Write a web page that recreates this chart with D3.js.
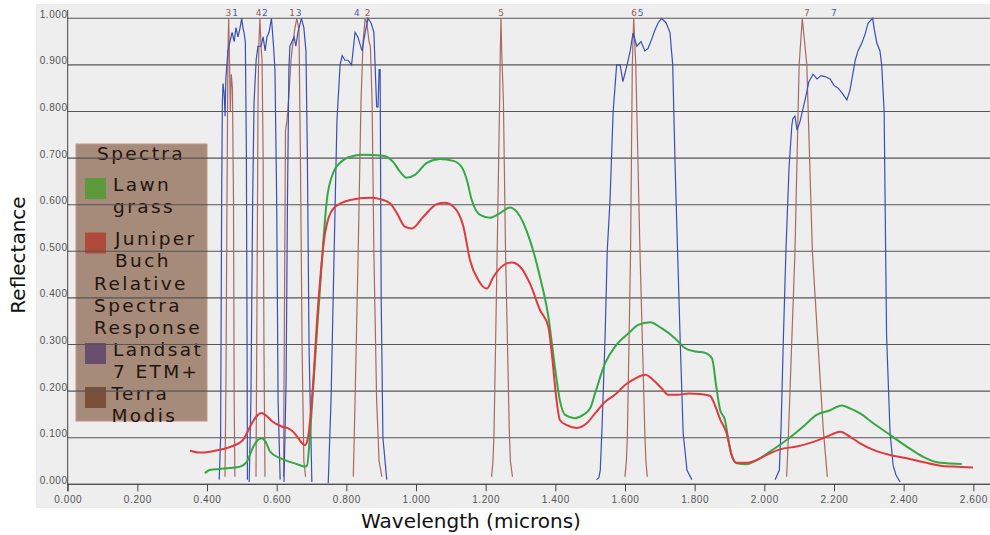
<!DOCTYPE html>
<html>
<head>
<meta charset="utf-8">
<script src="https://cdn.jsdelivr.net/npm/d3@7"></script>
<style>
  body { margin: 0; background: #fff; }
  svg { display: block; font-family: "DejaVu Sans", sans-serif; }
</style>
</head>
<body>
<div id="chart"></div>
<script>
// axis ticks
const xTicks = [0, 0.2, 0.4, 0.6, 0.8, 1.0, 1.2, 1.4, 1.6, 1.8, 2.0, 2.2, 2.4, 2.6];
const yTicks = [0, 0.1, 0.2, 0.3, 0.4, 0.5, 0.6, 0.7, 0.8, 0.9, 1.0];

// spectra [wavelength, reflectance]
const lawnGrass = [
  [0.394,0.024],[0.409,0.031],[0.437,0.033],[0.466,0.035],[0.495,0.038],[0.514,0.048],
  [0.533,0.081],[0.546,0.095],[0.555,0.099],[0.562,0.097],[0.569,0.09],[0.581,0.07],
  [0.610,0.056],[0.638,0.048],[0.667,0.041],[0.681,0.038],[0.687,0.04],[0.696,0.11],
  [0.704,0.2],[0.715,0.32],[0.729,0.47],[0.744,0.61],[0.763,0.67],[0.782,0.69],
  [0.811,0.703],[0.848,0.707],[0.905,0.705],[0.934,0.692],[0.954,0.671],[0.973,0.658],
  [0.997,0.664],[1.031,0.69],[1.069,0.698],[1.107,0.694],[1.131,0.681],[1.146,0.653],
  [1.160,0.61],[1.184,0.578],[1.212,0.572],[1.241,0.582],[1.270,0.594],[1.289,0.585],
  [1.327,0.524],[1.356,0.445],[1.380,0.36],[1.399,0.25],[1.413,0.18],[1.428,0.149],
  [1.456,0.142],[1.480,0.149],[1.500,0.163],[1.514,0.195],[1.543,0.26],[1.571,0.295],
  [1.610,0.324],[1.638,0.342],[1.672,0.348],[1.705,0.335],[1.744,0.313],[1.773,0.292],
  [1.801,0.285],[1.830,0.282],[1.850,0.27],[1.862,0.21],[1.873,0.16],[1.887,0.138],
  [1.897,0.095],[1.906,0.063],[1.921,0.045],[1.949,0.043],[1.978,0.052],[2.016,0.07],
  [2.064,0.095],[2.112,0.124],[2.150,0.149],[2.189,0.159],[2.222,0.169],[2.246,0.163],
  [2.275,0.152],[2.313,0.131],[2.361,0.106],[2.409,0.081],[2.456,0.059],[2.505,0.046],
  [2.567,0.0435]
];
const juniperBuch = [
  [0.351,0.072],[0.380,0.068],[0.409,0.07],[0.437,0.074],[0.466,0.08],[0.503,0.095],
  [0.528,0.13],[0.541,0.145],[0.557,0.153],[0.569,0.148],[0.586,0.136],[0.614,0.124],
  [0.633,0.12],[0.647,0.113],[0.662,0.099],[0.673,0.088],[0.681,0.084],[0.690,0.1],
  [0.701,0.18],[0.720,0.395],[0.739,0.54],[0.763,0.592],[0.811,0.61],[0.868,0.615],
  [0.897,0.612],[0.925,0.603],[0.945,0.582],[0.968,0.553],[0.988,0.549],[1.021,0.574],
  [1.059,0.601],[1.083,0.604],[1.107,0.596],[1.136,0.553],[1.155,0.481],[1.179,0.438],
  [1.203,0.42],[1.222,0.445],[1.251,0.47],[1.275,0.476],[1.299,0.467],[1.327,0.431],
  [1.356,0.374],[1.380,0.338],[1.390,0.28],[1.402,0.19],[1.413,0.138],[1.433,0.127],
  [1.461,0.121],[1.490,0.131],[1.514,0.152],[1.543,0.177],[1.571,0.192],[1.600,0.213],
  [1.629,0.227],[1.658,0.235],[1.681,0.224],[1.705,0.206],[1.724,0.192],[1.753,0.192],
  [1.782,0.195],[1.815,0.194],[1.844,0.19],[1.858,0.17],[1.873,0.14],[1.892,0.109],
  [1.906,0.063],[1.921,0.046],[1.949,0.046],[1.978,0.052],[2.007,0.063],[2.045,0.075],
  [2.093,0.081],[2.141,0.091],[2.179,0.102],[2.218,0.113],[2.246,0.102],[2.275,0.088],
  [2.313,0.074],[2.361,0.063],[2.409,0.056],[2.456,0.048],[2.505,0.04],[2.543,0.038],
  [2.599,0.036]
];

// Landsat 7 ETM+ relative spectral response
const landsat1 = [
  [0.435,0.01],[0.439,0.10],[0.442,0.61],[0.444,0.82],[0.446,0.86],[0.449,0.84],[0.452,0.79],
  [0.454,0.87],[0.460,0.93],[0.466,0.95],[0.472,0.97],[0.478,0.95],[0.483,0.98],[0.489,0.96],
  [0.495,0.98],[0.4996,1.0],[0.503,0.98],[0.506,0.97],[0.510,0.95],[0.513,0.71],[0.515,0.29],
  [0.516,0.01]
];
const landsat2 = [
  [0.521,0.005],[0.526,0.18],[0.531,0.61],[0.535,0.82],[0.541,0.91],[0.546,0.94],[0.555,0.94],
  [0.561,0.96],[0.567,0.93],[0.572,0.96],[0.578,0.97],[0.585,1.0],[0.591,0.94],[0.595,0.89],
  [0.600,0.61],[0.604,0.18],[0.610,0.01]
];
const landsat3 = [
  [0.621,0.005],[0.627,0.22],[0.631,0.61],[0.635,0.89],[0.638,0.94],[0.644,0.95],[0.650,0.96],
  [0.655,0.94],[0.661,0.97],[0.671,1.0],[0.678,0.98],[0.684,0.93],[0.688,0.71],[0.693,0.29],
  [0.701,0.005]
];
const landsat4 = [
  [0.748,0.003],[0.756,0.18],[0.765,0.50],[0.773,0.78],[0.782,0.90],[0.788,0.92],[0.796,0.91],
  [0.805,0.91],[0.815,0.90],[0.825,0.97],[0.833,0.96],[0.845,0.93],[0.854,0.97],[0.862,1.0],
  [0.871,0.99],[0.879,0.97],[0.887,0.81],[0.891,0.81],[0.894,0.89],[0.897,0.89],[0.900,0.40],
  [0.905,0.10],[0.916,0.01]
];
const landsat5 = [
  [1.518,0.01],[1.525,0.014],[1.529,0.03],[1.534,0.12],[1.543,0.32],[1.549,0.50],[1.557,0.61],
  [1.566,0.80],[1.576,0.90],[1.586,0.90],[1.594,0.864],[1.606,0.90],[1.615,0.93],[1.623,0.968],
  [1.634,0.94],[1.646,0.95],[1.657,0.93],[1.666,0.935],[1.674,0.95],[1.686,0.975],[1.695,0.99],
  [1.705,1.0],[1.718,0.99],[1.729,0.97],[1.737,0.90],[1.744,0.68],[1.758,0.32],[1.767,0.11],
  [1.778,0.03],[1.792,0.01]
];
const landsat7 = [
  [2.031,0.01],[2.043,0.03],[2.048,0.12],[2.055,0.32],[2.062,0.50],[2.071,0.68],[2.079,0.77],
  [2.082,0.785],[2.088,0.79],[2.094,0.76],[2.103,0.78],[2.117,0.825],[2.128,0.864],[2.140,0.88],
  [2.151,0.87],[2.163,0.877],[2.174,0.875],[2.189,0.87],[2.200,0.856],[2.212,0.85],[2.223,0.84],
  [2.237,0.825],[2.246,0.846],[2.261,0.91],[2.269,0.93],[2.280,0.947],[2.289,0.965],[2.298,0.99],
  [2.311,1.0],[2.316,0.975],[2.323,0.947],[2.332,0.93],[2.337,0.90],[2.344,0.80],[2.351,0.32],
  [2.361,0.11],[2.370,0.04],[2.378,0.02],[2.390,0.005]
];

// Terra MODIS relative spectral response
const modis3 = [
  [0.4516,0.016],[0.4544,0.22],[0.4573,0.61],[0.4602,0.93],[0.4622,1.0],[0.4645,0.91],
  [0.467,0.80],[0.4697,0.88],[0.473,0.85],[0.476,0.61],[0.478,0.18],[0.480,0.016]
];
const modis4 = [
  [0.5406,0.016],[0.5435,0.40],[0.5464,0.82],[0.549,0.95],[0.552,1.0],[0.555,0.94],
  [0.558,0.91],[0.561,0.71],[0.5635,0.29],[0.5664,0.016]
];
const modis1 = [
  [0.6196,0.016],[0.6225,0.40],[0.6253,0.76],[0.6296,0.78],[0.6354,0.84],[0.641,0.91],
  [0.647,0.95],[0.6526,0.98],[0.658,1.0],[0.664,0.975],[0.668,0.71],[0.673,0.29],
  [0.678,0.05],[0.683,0.016]
];
const modis2 = [
  [0.820,0.016],[0.825,0.18],[0.834,0.50],[0.842,0.82],[0.848,0.95],[0.854,1.0],[0.859,0.99],
  [0.865,0.95],[0.869,0.94],[0.874,0.82],[0.879,0.50],[0.887,0.18],[0.894,0.05],[0.902,0.016]
];
const modis5 = [
  [1.217,0.016],[1.221,0.05],[1.224,0.11],[1.233,0.50],[1.240,0.82],[1.242,0.93],[1.244,1.0],
  [1.246,0.93],[1.251,0.82],[1.257,0.50],[1.268,0.11],[1.271,0.05],[1.277,0.016]
];
const modis6 = [
  [1.600,0.016],[1.604,0.05],[1.607,0.11],[1.616,0.50],[1.621,0.90],[1.625,1.0],[1.631,0.90],
  [1.643,0.50],[1.657,0.11],[1.660,0.05],[1.664,0.016]
];
const modis7 = [
  [2.064,0.016],[2.069,0.10],[2.078,0.29],[2.088,0.50],[2.100,0.90],[2.109,1.0],[2.122,0.90],
  [2.138,0.50],[2.155,0.29],[2.169,0.12],[2.181,0.016]
];

// band number labels along the top [label, wavelength]
const landsatLabels = [["1",0.4805],["2",0.566],["3",0.663],["4",0.830],["5",1.645],["7",2.200]];
const modisLabels = [["3",0.4615],["4",0.548],["1",0.6445],["2",0.861],["5",1.244],["6",1.626],["7",2.122]];

// legend text
const legendTitle = "Spectra";
const spectraNames = [["Lawn","grass"],["Juniper","Buch"]];
const responseTitle = ["Relative","Spectra","Response"];
const responseNames = [["Landsat","7 ETM+"],["Terra","Modis"]];

const width = 990, height = 535;
const green = "#33a845", red = "#e03a3e", blue = "#3a4fb6", brown = "#a86a62";

const x = d3.scaleLinear().domain([0, 2.6]).range([67.7, 973.3]);
const y = d3.scaleLinear().domain([0, 1]).range([484.3, 18.3]);

const svg = d3.select("#chart").append("svg")
  .attr("width", width)
  .attr("height", height);

svg.append("rect").attr("width", width).attr("height", height).attr("fill", "#fff");
svg.append("rect")
  .attr("x", 36).attr("y", 4)
  .attr("width", width - 36).attr("height", 504)
  .attr("fill", "#eeeeee");

// legend (drawn under the grid lines)
const lg = svg.append("g").attr("fill", "#24150d").style("font-size", "18.5px").style("letter-spacing", "2.4px");
lg.append("rect")
  .attr("x", 76).attr("y", 144).attr("width", 131).attr("height", 277)
  .attr("fill", "#a68a7a").attr("stroke", "#c49484").attr("stroke-width", 1);
lg.append("text").attr("x", 97).attr("y", 160).text(legendTitle);

const spectraColors = ["#5c9a3c", "#b04b3b"];
spectraNames.forEach(function(n, i) {
  const top = 178 + i * 54.5;
  lg.append("rect").attr("x", 85).attr("y", top).attr("width", 21).attr("height", 21)
    .attr("fill", spectraColors[i]);
  lg.append("text").attr("x", 113 + i * 2).attr("y", top + 12.5).text(n[0]);
  lg.append("text").attr("x", 113 + i * 2).attr("y", top + 34.5).text(n[1]);
});
responseTitle.forEach(function(t, i) {
  lg.append("text").attr("x", 94).attr("y", 290 + i * 22).text(t);
});
const responseColors = ["#6a4e6e", "#7c4f38"];
responseNames.forEach(function(n, i) {
  const top = 343 + i * 44;
  lg.append("rect").attr("x", 85).attr("y", top).attr("width", 21).attr("height", 21)
    .attr("fill", responseColors[i]);
  lg.append("text").attr("x", 113 - i * 1.5).attr("y", top + 13).text(n[0]);
  lg.append("text").attr("x", 113 - i * 1.5).attr("y", top + 35).text(n[1]);
});

// grid
svg.append("g").selectAll("line")
  .data(yTicks).enter().append("line")
  .attr("x1", x(0)).attr("x2", width)
  .attr("y1", d => y(d)).attr("y2", d => y(d))
  .attr("stroke", "#555").attr("stroke-width", 1.1);

// axes
const xAxis = svg.append("g")
  .attr("transform", "translate(0," + y(0) + ")")
  .call(d3.axisBottom(x).tickValues(xTicks).tickFormat(d3.format(".3f")).tickSize(7).tickPadding(5));
xAxis.select(".domain").attr("stroke", "#444").attr("d", "M" + x(0) + ",0H" + width);
xAxis.selectAll(".tick line").attr("stroke", "#444");
xAxis.selectAll("text").attr("fill", "#555").style("font-size", "10px").style("letter-spacing", "0.6px");

const yAxis = svg.append("g")
  .attr("transform", "translate(" + x(0) + ",0)")
  .call(d3.axisLeft(y).tickValues(yTicks).tickFormat(d3.format(".3f")).tickSize(0).tickPadding(0));
yAxis.select(".domain").attr("stroke", "#444").attr("d", "M0,10V" + (y(0) + 7));
yAxis.selectAll("text").attr("fill", "#555").attr("dy", "-0.1em")
  .style("font-size", "10px").style("letter-spacing", "0.6px");

const line = d3.line().x(d => x(d[0])).y(d => y(d[1]));

// band responses
const modisBands = [modis3, modis4, modis1, modis2, modis5, modis6, modis7];
const landsatBands = [landsat1, landsat2, landsat3, landsat4, landsat5, landsat7];

svg.append("g").selectAll("path")
  .data(modisBands).enter().append("path")
  .attr("d", line).attr("fill", "none")
  .attr("stroke", brown).attr("stroke-width", 1.2);
svg.append("g").selectAll("path")
  .data(landsatBands).enter().append("path")
  .attr("d", line).attr("fill", "none")
  .attr("stroke", blue).attr("stroke-width", 1.2);

// spectra
const smooth = d3.line().x(d => x(d[0])).y(d => y(d[1])).curve(d3.curveMonotoneX);
svg.append("path").datum(lawnGrass).attr("d", smooth)
  .attr("fill", "none").attr("stroke", green).attr("stroke-width", 2);
svg.append("path").datum(juniperBuch).attr("d", smooth)
  .attr("fill", "none").attr("stroke", red).attr("stroke-width", 2);

// band numbers
svg.append("g").selectAll("text")
  .data(modisLabels).enter().append("text")
  .attr("x", d => x(d[1])).attr("y", 16).attr("text-anchor", "middle")
  .attr("fill", "#9a5a55").style("font-size", "9px").text(d => d[0]);
svg.append("g").selectAll("text")
  .data(landsatLabels).enter().append("text")
  .attr("x", d => x(d[1])).attr("y", 16).attr("text-anchor", "middle")
  .attr("fill", "#4a5aa8").style("font-size", "9px").text(d => d[0]);

// axis titles
svg.append("text")
  .attr("transform", "translate(25,255) rotate(-90)")
  .attr("text-anchor", "middle").attr("fill", "#111")
  .style("font-size", "20px").text("Reflectance");
svg.append("text")
  .attr("x", 471).attr("y", 528).attr("text-anchor", "middle").attr("fill", "#111")
  .style("font-size", "20px").text("Wavelength (microns)");
</script>
</body>
</html>
